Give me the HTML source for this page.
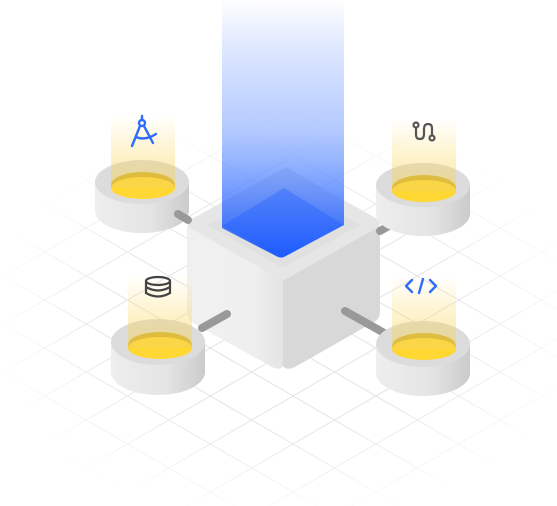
<!DOCTYPE html>
<html><head><meta charset="utf-8"><style>
html,body{margin:0;padding:0;background:#fff;width:557px;height:506px;overflow:hidden}
svg{display:block;position:absolute;left:0;top:0}
</style></head><body>
<svg width="557" height="506" viewBox="0 0 557 506">
<defs>
<linearGradient id="beam" x1="0" y1="0" x2="0" y2="1">
<stop offset="0" stop-color="#2f6bff" stop-opacity="0"/>
<stop offset="0.5" stop-color="#5b8cff" stop-opacity="0.45"/>
<stop offset="1" stop-color="#1e5bff" stop-opacity="1"/>
</linearGradient>
<linearGradient id="glow" x1="0" y1="0" x2="0" y2="1">
<stop offset="0" stop-color="#ffd84a" stop-opacity="0"/>
<stop offset="1" stop-color="#f5d25a" stop-opacity="0.55"/>
</linearGradient>
<linearGradient id="podside" x1="0" y1="0" x2="1" y2="0">
<stop offset="0" stop-color="#eeeeee"/><stop offset="0.6" stop-color="#e4e4e4"/><stop offset="1" stop-color="#cbcbcb"/>
</linearGradient>
<linearGradient id="leftface" x1="0" y1="0" x2="1" y2="0">
<stop offset="0" stop-color="#f0f0f0"/><stop offset="0.7" stop-color="#efefef"/><stop offset="1" stop-color="#e4e4e4"/>
</linearGradient>
<radialGradient id="fade" cx="285" cy="320" r="300" gradientUnits="userSpaceOnUse" gradientTransform="translate(285 320) scale(1 0.68) translate(-285 -320)">
<stop offset="0" stop-color="#fff" stop-opacity="1"/><stop offset="0.55" stop-color="#fff" stop-opacity="0.85"/><stop offset="1" stop-color="#fff" stop-opacity="0"/>
</radialGradient>
<mask id="gridmask"><rect x="0" y="0" width="557" height="506" fill="url(#fade)"/></mask>
</defs>
<g id="grid" mask="url(#gridmask)" stroke="#e0e0e0" stroke-width="1"></g>

<!-- cube -->
<g>
<path d="M187,226 L283,279 L283,366 Q280,371 272,367 L193,323 Q187,320 187,313 Z" fill="url(#leftface)"/>
<path d="M283,279 L380,226 L380,312 Q380,319 374,322 L295,367 Q286,371 283,366 Z" fill="#d8d8d8"/>
<path d="M286,167 L379,220 Q382,224 377,228 L286,279 Q283,281 280,279 L190,228 Q185,224 190,220 Z" fill="#e6e6e6"/>
<path d="M285,185 L360,225 L283,268 L208,225 Z" fill="#dcdcdc" opacity="0.6"/>
</g>

<!-- beam -->
<path d="M222,0 L344,0 L344,225 L284,257 Q281,258 278,257 L222,228 Z" fill="url(#beam)"/>
<path d="M284,188 L344,225 L283,257 L222,226 Z" fill="#1e5bff" opacity="0.35"/>

<!-- left pods -->
<g>
<path d="M95,182 L95,211 A47,22 0 0 0 189,211 L189,182 Z" fill="url(#podside)"/>
<ellipse cx="142" cy="182" rx="47" ry="22" fill="#dcdcdc"/>
<ellipse cx="143" cy="185" rx="32" ry="13" fill="#c9a92a"/>
<ellipse cx="143" cy="188" rx="32" ry="11" fill="#ffd833"/>
<rect x="111" y="115" width="64" height="73" fill="url(#glow)"/>
</g>
<g>
<path d="M111,342 L111,372 A47,23 0 0 0 205,372 L205,342 Z" fill="url(#podside)"/>
<ellipse cx="158" cy="342" rx="47" ry="23" fill="#dcdcdc"/>
<ellipse cx="160" cy="345" rx="32" ry="13" fill="#c9a92a"/>
<ellipse cx="160" cy="348" rx="32" ry="11" fill="#ffd833"/>
<rect x="128" y="275" width="64" height="73" fill="url(#glow)"/>
</g>

<!-- connectors -->
<g stroke="#999" stroke-width="8" stroke-linecap="round">
<line x1="178" y1="214" x2="188" y2="220"/>
<line x1="380" y1="231" x2="396" y2="222"/>
<line x1="202" y1="328" x2="227" y2="314"/>
<line x1="345" y1="311" x2="386" y2="334"/>
</g>

<!-- right pods -->
<g>
<path d="M376,185 L376,214 A47,22 0 0 0 470,214 L470,185 Z" fill="url(#podside)"/>
<ellipse cx="423" cy="185" rx="47" ry="22" fill="#dcdcdc"/>
<ellipse cx="424" cy="188" rx="32" ry="13" fill="#c9a92a"/>
<ellipse cx="424" cy="191" rx="32" ry="11" fill="#ffd833"/>
<rect x="392" y="118" width="64" height="73" fill="url(#glow)"/>
</g>
<g>
<path d="M376,344 L376,373 A47,23 0 0 0 470,373 L470,344 Z" fill="url(#podside)"/>
<ellipse cx="423" cy="344" rx="47" ry="23" fill="#dcdcdc"/>
<ellipse cx="424" cy="346" rx="32" ry="13" fill="#c9a92a"/>
<ellipse cx="424" cy="349" rx="32" ry="11" fill="#ffd833"/>
<rect x="392" y="276" width="64" height="73" fill="url(#glow)"/>
</g>

<!-- icons -->
<g fill="none" stroke="#2f6bff" stroke-width="2.4" stroke-linecap="round">
<line x1="142" y1="116" x2="142" y2="120"/>
<circle cx="142" cy="123" r="3"/>
<line x1="140" y1="126" x2="132" y2="146"/>
<line x1="144" y1="126" x2="153" y2="143"/>
<path d="M136,137 Q145,141 156,134"/>
</g>
<g fill="none" stroke="#555" stroke-width="2.2" stroke-linecap="round">
<circle cx="416" cy="125" r="2.5"/><circle cx="432" cy="138" r="2.5"/>
<path d="M416,128 L416,135 Q416,139 420,139 Q424,139 424,134 L424,129 Q424,124 428,124 Q432,124 432,128 L432,135"/>
</g>
<g fill="none" stroke="#444" stroke-width="2.2">
<ellipse cx="158" cy="281" rx="12" ry="4"/>
<path d="M146,281 L146,293 Q158,300 170,293 L170,281"/>
<path d="M146,287 Q158,294 170,287"/>
</g>
<g fill="none" stroke="#2f6bff" stroke-width="2.4" stroke-linecap="round" stroke-linejoin="round">
<path d="M412,280 L406,286 L412,292"/><path d="M430,280 L436,286 L430,292"/>
<line x1="423" y1="279" x2="419" y2="293"/>
</g>
</svg>
<script>
const g=document.getElementById('grid');
const ns='http://www.w3.org/2000/svg';
const s=0.58, step=48;
for(let k=-8;k<26;k++){
  const c1=34+k*step;
  const a=document.createElementNS(ns,'line');
  a.setAttribute('x1',0);a.setAttribute('y1',c1);a.setAttribute('x2',557);a.setAttribute('y2',c1+557*s);
  
  
  g.appendChild(a);
  const c2=38+k*step;
  const b=document.createElementNS(ns,'line');
  b.setAttribute('x1',0);b.setAttribute('y1',c2);b.setAttribute('x2',557);b.setAttribute('y2',c2-557*s);
  
  
  g.appendChild(b);
}
</script>
</body></html>
